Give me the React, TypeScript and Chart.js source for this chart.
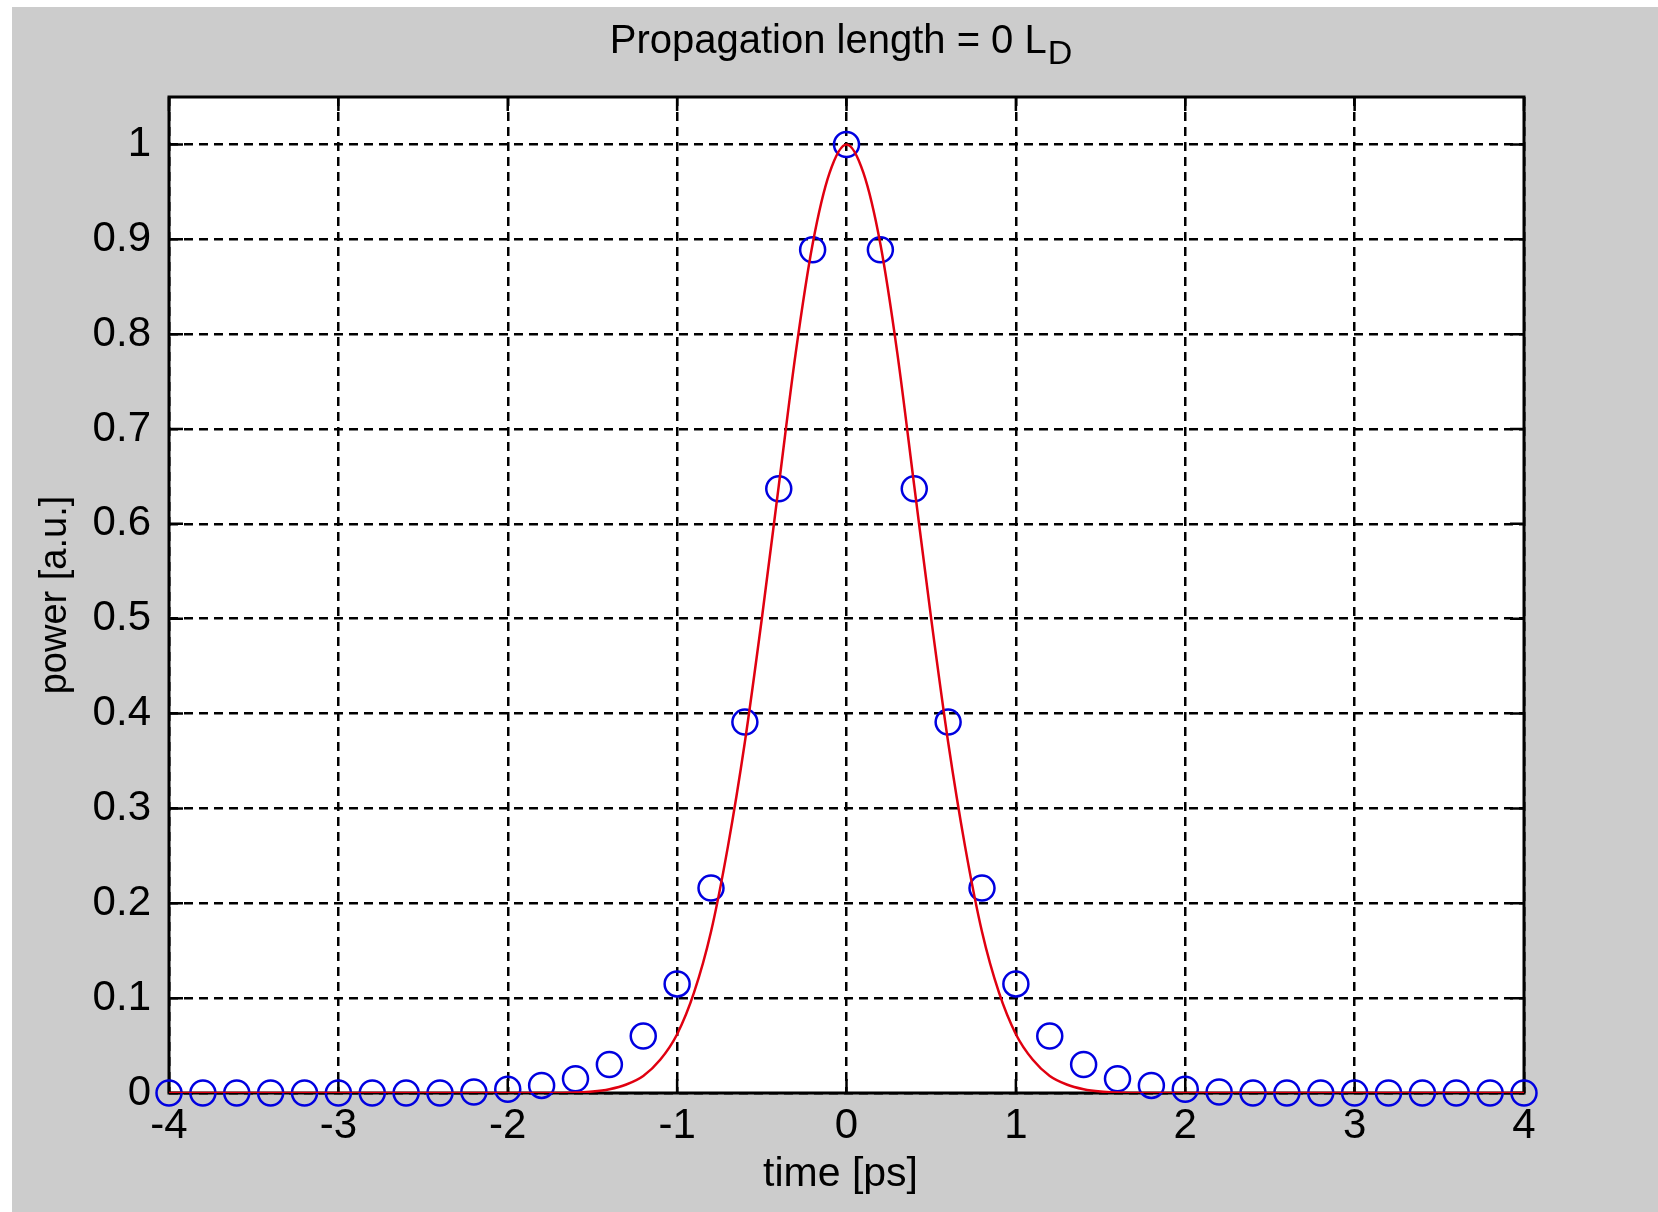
import React, { useEffect, useRef } from "react";
import { Chart, registerables } from "chart.js";

Chart.register(...registerables);

// Data
const blueTime: number[] = [
  -4, -3.8, -3.6, -3.4, -3.2, -3, -2.8, -2.6, -2.4, -2.2, -2, -1.8, -1.6, -1.4, -1.2, -1, -0.8, -0.6, -0.4, -0.2,
  0, 0.2, 0.4, 0.6, 0.8, 1, 1.2, 1.4, 1.6, 1.8, 2, 2.2, 2.4, 2.6, 2.8, 3, 3.2, 3.4, 3.6, 3.8, 4,
];
const bluePower: number[] = [
  0, 0, 0, 0, 0, 0, 0, 0, 0, 0.001, 0.004, 0.008, 0.015, 0.03, 0.06, 0.115, 0.216, 0.391, 0.637, 0.889,
  1.0, 0.889, 0.637, 0.391, 0.216, 0.115, 0.06, 0.03, 0.015, 0.008, 0.004, 0.001, 0, 0, 0, 0, 0, 0, 0, 0, 0,
];

const redTime: number[] = [
  -4, -2, -1.7, -1.6, -1.5, -1.4, -1.3, -1.2, -1.1, -1, -0.9, -0.8, -0.7, -0.6, -0.5, -0.4, -0.3, -0.2, -0.1,
  0, 0.1, 0.2, 0.3, 0.4, 0.5, 0.6, 0.7, 0.8, 0.9, 1, 1.1, 1.2, 1.3, 1.4, 1.5, 1.6, 1.7, 2, 4,
];
const redPower: number[] = [
  0, 0, 0, 0.0005, 0.0015, 0.004, 0.009, 0.018, 0.035, 0.062, 0.106, 0.17, 0.26, 0.37, 0.5, 0.64, 0.78, 0.895, 0.97,
  1.0, 0.97, 0.895, 0.78, 0.64, 0.5, 0.37, 0.26, 0.17, 0.106, 0.062, 0.035, 0.018, 0.009, 0.004, 0.0015, 0.0005, 0, 0, 0,
];

const xTicks: number[] = [-4, -3, -2, -1, 0, 1, 2, 3, 4];
const yTicks: number[] = [0, 0.1, 0.2, 0.3, 0.4, 0.5, 0.6, 0.7, 0.8, 0.9, 1];

const titleMain = "Propagation length = 0 L";
const titleSub = "D";
const xLabel = "time [ps]";
const yLabel = "power [a.u.]";

const W = 1658;
const H = 1212;
const FONT = "'Liberation Sans', Arial, Helvetica, sans-serif";

const decorPlugin = {
  id: "matlabDecor",
  beforeDraw(chart: any) {
    const { ctx, chartArea } = chart;
    ctx.save();
    ctx.fillStyle = "#ffffff";
    ctx.fillRect(0, 0, W, H);
    ctx.fillStyle = "#cccccc";
    ctx.fillRect(12, 7, W - 12, H - 7);
    ctx.fillStyle = "#ffffff";
    ctx.fillRect(chartArea.left, chartArea.top, chartArea.right - chartArea.left, chartArea.bottom - chartArea.top);
    ctx.restore();
  },
  beforeDatasetsDraw(chart: any) {
    const { ctx, chartArea, scales } = chart;
    const { left, right, top, bottom } = chartArea;
    ctx.save();
    ctx.strokeStyle = "#000000";
    ctx.lineWidth = 2.5;
    const tl = 14;
    ctx.beginPath();
    for (const v of xTicks) {
      const x = scales.x.getPixelForValue(v);
      ctx.moveTo(x, bottom);
      ctx.lineTo(x, bottom - tl);
      ctx.moveTo(x, top);
      ctx.lineTo(x, top + tl);
    }
    for (const v of yTicks) {
      const y = scales.y.getPixelForValue(v);
      ctx.moveTo(left, y);
      ctx.lineTo(left + tl, y);
      ctx.moveTo(right, y);
      ctx.lineTo(right - tl, y);
    }
    ctx.stroke();
    ctx.lineWidth = 3;
    ctx.strokeRect(left, top, right - left, bottom - top);
    ctx.restore();
  },
  afterDraw(chart: any) {
    const { ctx, chartArea } = chart;
    const cx = (chartArea.left + chartArea.right) / 2;
    ctx.save();
    ctx.fillStyle = "#000000";
    // Title with subscript
    ctx.font = `40px ${FONT}`;
    ctx.textBaseline = "alphabetic";
    ctx.textAlign = "left";
    const wMain = ctx.measureText(titleMain).width;
    ctx.font = `34px ${FONT}`;
    const wSub = ctx.measureText(titleSub).width;
    const startX = cx - 6 - (wMain + wSub) / 2;
    ctx.font = `40px ${FONT}`;
    ctx.fillText(titleMain, startX, 53);
    ctx.font = `34px ${FONT}`;
    ctx.fillText(titleSub, startX + wMain + 1, 64);
    // X label
    ctx.font = `41px ${FONT}`;
    ctx.textAlign = "center";
    ctx.fillText(xLabel, cx - 6, 1186);
    // Y label
    ctx.translate(66, (chartArea.top + chartArea.bottom) / 2);
    ctx.rotate(-Math.PI / 2);
    ctx.font = `38px ${FONT}`;
    ctx.textAlign = "center";
    ctx.fillText(yLabel, 0, 0);
    ctx.restore();
  },
};

export default function App() {
  const ref = useRef<HTMLCanvasElement | null>(null);
  useEffect(() => {
    const canvas = ref.current;
    if (!canvas) return;
    const chart = new Chart(canvas, {
      type: "scatter",
      data: {
        datasets: [
          {
            type: "line",
            label: "red",
            data: redTime.map((t, i) => ({ x: t, y: redPower[i] })),
            borderColor: "#e00010",
            borderWidth: 2.5,
            pointRadius: 0,
            fill: false,
            cubicInterpolationMode: "monotone",
            order: 0,
          } as any,
          {
            type: "scatter",
            label: "blue",
            data: blueTime.map((t, i) => ({ x: t, y: bluePower[i] })),
            borderColor: "#0000e0",
            backgroundColor: "rgba(0,0,0,0)",
            borderWidth: 2.5,
            pointRadius: 12.5,
            pointHoverRadius: 12.5,
            pointStyle: "circle",
            showLine: false,
            clip: false,
            order: 1,
          } as any,
        ],
      },
      options: {
        animation: false,
        responsive: false,
        devicePixelRatio: 1,
        events: [],
        layout: { padding: { top: 97, right: 134, bottom: 0, left: 0 } },
        plugins: {
          legend: { display: false },
          tooltip: { enabled: false },
          title: { display: false },
        },
        scales: {
          x: {
            type: "linear",
            min: -4,
            max: 4,
            afterFit: (s: any) => {
              s.height = 119;
            },
            afterBuildTicks: (s: any) => {
              s.ticks = xTicks.map((v) => ({ value: v }));
            },
            ticks: {
              color: "#000000",
              font: { family: FONT, size: 42 },
              padding: 8,
              maxRotation: 0,
              autoSkip: false,
              callback: (v: any) => String(v),
            },
            grid: { color: "#000000", lineWidth: 2.5, drawTicks: false },
            border: { display: false, dash: [9, 6] },
          },
          y: {
            type: "linear",
            min: 0,
            max: 1.05,
            afterFit: (s: any) => {
              s.width = 169;
            },
            afterBuildTicks: (s: any) => {
              s.ticks = yTicks.map((v) => ({ value: v }));
            },
            ticks: {
              color: "#000000",
              font: { family: FONT, size: 42 },
              padding: 18,
              autoSkip: false,
              callback: (v: any) => String(Math.round(Number(v) * 10) / 10),
            },
            grid: { color: "#000000", lineWidth: 2.5, drawTicks: false },
            border: { display: false, dash: [9, 6] },
          },
        },
      },
      plugins: [decorPlugin],
    });
    return () => chart.destroy();
  }, []);
  return (
    <div style={{ position: "absolute", left: 0, top: 0, width: W, height: H, background: "#ffffff" }}>
      <canvas ref={ref} width={W} height={H} style={{ display: "block", width: W, height: H }} />
    </div>
  );
}
